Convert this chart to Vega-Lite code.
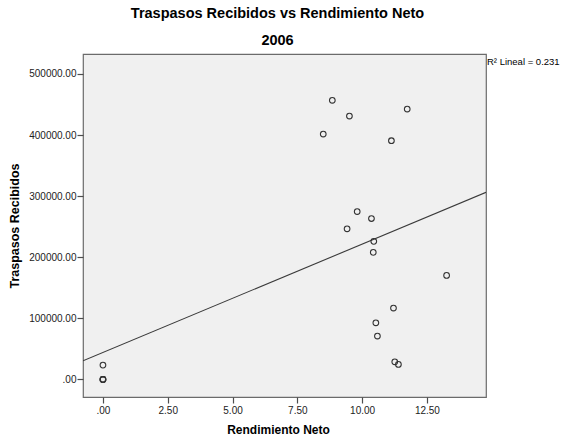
{
  "$schema": "https://vega.github.io/schema/vega-lite/v6.json",
  "autosize": "none",
  "width": 403,
  "height": 343,
  "padding": {"left": 83, "top": 54, "right": 77, "bottom": 43},
  "background": "white",
  "config": {
    "font": "Liberation Sans",
    "view": {"fill": "#f0f0f0", "stroke": "#6b6b6b", "strokeWidth": 1.2}
  },
  "title": {
    "text": ["Traspasos Recibidos vs Rendimiento Neto", "2006"],
    "fontSize": 14.5,
    "fontWeight": "bold",
    "font": "Liberation Sans",
    "color": "#000000",
    "lineHeight": 27,
    "offset": 6,
    "dx": -7,
    "anchor": "middle"
  },
  "datasets": {
    "pts": [
      {"rend": 8.85, "trasp": 456900},
      {"rend": 9.51, "trasp": 431100},
      {"rend": 8.50, "trasp": 401700},
      {"rend": 11.74, "trasp": 442600},
      {"rend": 11.13, "trasp": 390700},
      {"rend": 9.81, "trasp": 274800},
      {"rend": 10.36, "trasp": 263400},
      {"rend": 9.42, "trasp": 246600},
      {"rend": 10.45, "trasp": 226000},
      {"rend": 10.43, "trasp": 208000},
      {"rend": 13.26, "trasp": 170300},
      {"rend": 11.21, "trasp": 116800},
      {"rend": 10.53, "trasp": 92700},
      {"rend": 10.59, "trasp": 70900},
      {"rend": 11.26, "trasp": 28800},
      {"rend": 11.40, "trasp": 24600},
      {"rend": 0, "trasp": 23400},
      {"rend": 0, "trasp": 0},
      {"rend": 0, "trasp": 0},
      {"rend": 0, "trasp": 0}
    ],
    "fit": [
      {"rend": -0.77, "trasp": 30400},
      {"rend": 14.78, "trasp": 306200}
    ],
    "r2": [
      {"rend": 14.78, "trasp": 532700, "label": "R² Lineal = 0.231"}
    ]
  },
  "layer": [
    {
      "data": {"name": "fit"},
      "mark": {"type": "line", "color": "#3a3a3a", "strokeWidth": 1.1, "clip": true},
      "encoding": {
        "x": {
          "field": "rend", "type": "quantitative",
          "scale": {"domain": [-0.77, 14.78], "nice": false, "zero": false},
          "axis": {
            "title": "Rendimiento Neto",
            "values": [0, 2.5, 5, 7.5, 10, 12.5],
            "labelExpr": "datum.value == 0 ? '.00' : format(datum.value, '.2f')",
            "grid": false, "domain": false,
            "tickColor": "#4d4d4d", "tickSize": 6, "tickWidth": 1.2,
            "labelFont": "Liberation Sans", "labelFontSize": 10, "labelColor": "#222222",
            "labelPadding": 2,
            "titleFont": "Liberation Sans", "titleFontSize": 12, "titleFontWeight": "bold",
            "titleColor": "#000000", "titlePadding": 9, "titleX": 195
          }
        },
        "y": {
          "field": "trasp", "type": "quantitative",
          "scale": {"domain": [-28800, 532700], "nice": false, "zero": false},
          "axis": {
            "title": "Traspasos Recibidos",
            "values": [0, 100000, 200000, 300000, 400000, 500000],
            "labelExpr": "datum.value == 0 ? '.00' : format(datum.value, '.2f')",
            "grid": false, "domain": false,
            "tickColor": "#4d4d4d", "tickSize": 6, "tickWidth": 1.2,
            "labelFont": "Liberation Sans", "labelFontSize": 10, "labelColor": "#222222",
            "labelPadding": 1,
            "titleFont": "Liberation Sans", "titleFontSize": 12.5, "titleFontWeight": "bold",
            "titleColor": "#000000", "titlePadding": 7
          }
        }
      }
    },
    {
      "data": {"name": "pts"},
      "mark": {"type": "point", "shape": "circle", "filled": false, "color": "#333333", "strokeWidth": 1.1, "size": 32, "opacity": 1},
      "encoding": {
        "x": {"field": "rend", "type": "quantitative"},
        "y": {"field": "trasp", "type": "quantitative"}
      }
    },
    {
      "data": {"name": "r2"},
      "mark": {"type": "text", "align": "left", "baseline": "middle", "dx": 1, "dy": 8, "fontSize": 9.5, "font": "Liberation Sans", "color": "#000000", "clip": false},
      "encoding": {
        "x": {"field": "rend", "type": "quantitative"},
        "y": {"field": "trasp", "type": "quantitative"},
        "text": {"field": "label"}
      }
    }
  ]
}
